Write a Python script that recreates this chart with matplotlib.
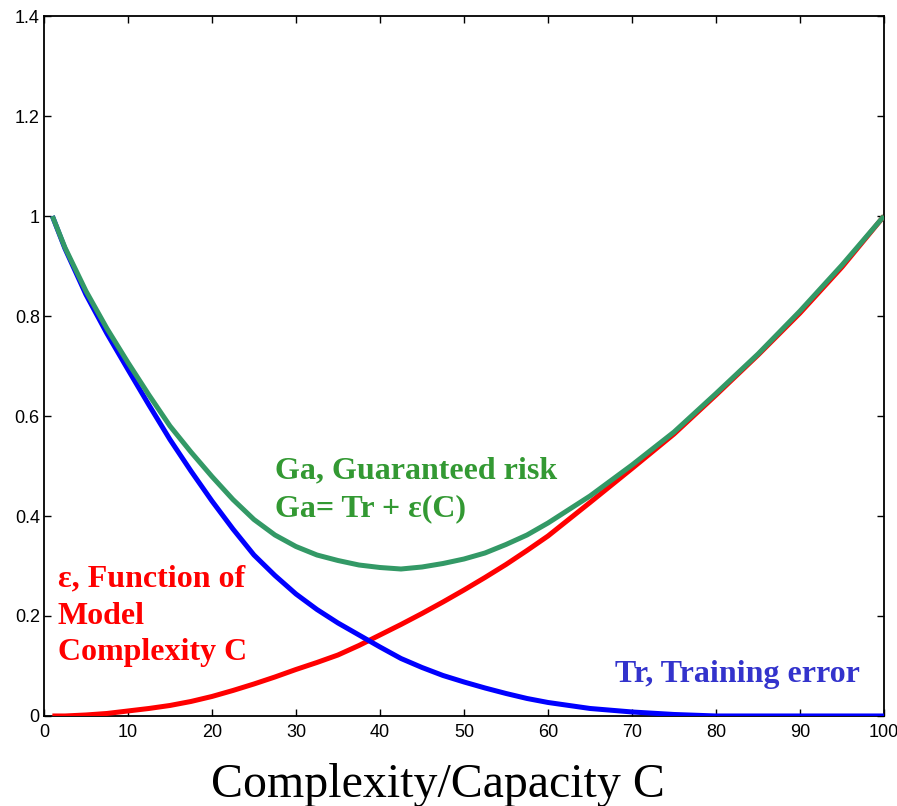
import matplotlib
matplotlib.use("Agg")
import matplotlib.pyplot as plt

# Data
x_vals = [1, 2.5, 5, 7.5, 10, 12.5, 15, 17.5, 20, 22.5, 25, 27.5, 30, 32.5, 35, 37.5, 40, 42.5, 45, 47.5,
          50, 52.5, 55, 57.5, 60, 65, 70, 75, 80, 85, 90, 95, 100]
train_err = [1.0, 0.935, 0.843, 0.765, 0.693, 0.622, 0.553, 0.490, 0.430, 0.374, 0.322, 0.281, 0.244, 0.213,
             0.186, 0.162, 0.138, 0.115, 0.097, 0.081, 0.068, 0.056, 0.045, 0.035, 0.027, 0.015, 0.008,
             0.003, 0.0, 0.0, 0.0, 0.0, 0.0]
eps_c = [0.0, 0.0, 0.002, 0.005, 0.010, 0.015, 0.021, 0.029, 0.039, 0.051, 0.064, 0.078, 0.093, 0.107,
         0.122, 0.141, 0.162, 0.183, 0.205, 0.228, 0.252, 0.277, 0.303, 0.331, 0.360, 0.427, 0.495, 0.564,
         0.642, 0.722, 0.806, 0.898, 1.0]
guaranteed = [1.0, 0.937, 0.850, 0.775, 0.707, 0.642, 0.580, 0.528, 0.479, 0.433, 0.393, 0.362, 0.339,
              0.322, 0.311, 0.302, 0.297, 0.294, 0.298, 0.305, 0.314, 0.326, 0.343, 0.362, 0.386, 0.440,
              0.502, 0.568, 0.645, 0.724, 0.810, 0.902, 1.0]

x_ticks = [0, 10, 20, 30, 40, 50, 60, 70, 80, 90, 100]
y_ticks = [0, 0.2, 0.4, 0.6, 0.8, 1.0, 1.2, 1.4]
y_tick_labels = ["0", "0.2", "0.4", "0.6", "0.8", "1", "1.2", "1.4"]

fig = plt.figure(figsize=(8.97, 8.06), dpi=100)
ax = fig.add_axes([0.049, 0.1117, 0.9365, 0.8683])

ax.plot(x_vals, eps_c, color="#FF0000", lw=3.6, solid_capstyle="butt", solid_joinstyle="round", zorder=3)
ax.plot(x_vals, train_err, color="#0000FF", lw=3.6, solid_capstyle="butt", solid_joinstyle="round", zorder=3)
ax.plot(x_vals, guaranteed, color="#339966", lw=3.6, solid_capstyle="butt", solid_joinstyle="round", zorder=4)

ax.set_xlim(0, 100)
ax.set_ylim(0, 1.4)
ax.set_xticks(x_ticks)
ax.set_xticklabels([str(t) for t in x_ticks])
ax.set_yticks(y_ticks)
ax.set_yticklabels(y_tick_labels)
ax.tick_params(direction="in", length=5, width=1, top=True, right=True, labelsize=13)
ax.tick_params(axis="x", pad=6)
ax.tick_params(axis="y", pad=3)
for lbl in ax.get_xticklabels() + ax.get_yticklabels():
    lbl.set_family("Liberation Sans")
for s in ax.spines.values():
    s.set_linewidth(1.3)

fig.text(0.488, 0.0112, "Complexity/Capacity C", family="Liberation Serif", fontsize=34.5,
         ha="center", va="baseline")

serif_bold = dict(family="Liberation Serif", fontweight="bold", fontsize=23, va="baseline", ha="left")
ax.text(27.5, 0.476, "Ga, Guaranteed risk", color="#339933", **serif_bold)
ax.text(27.5, 0.399, "Ga= Tr + ε(C)", color="#339933", **serif_bold)
ax.text(1.67, 0.259, "ε, Function of", color="#FF0000", **serif_bold)
ax.text(1.67, 0.184, "Model", color="#FF0000", **serif_bold)
ax.text(1.67, 0.112, "Complexity C", color="#FF0000", **serif_bold)
ax.text(67.98, 0.0686, "Tr, Training error", color="#3333CC", **serif_bold)

fig.savefig("out.png", dpi=100)
